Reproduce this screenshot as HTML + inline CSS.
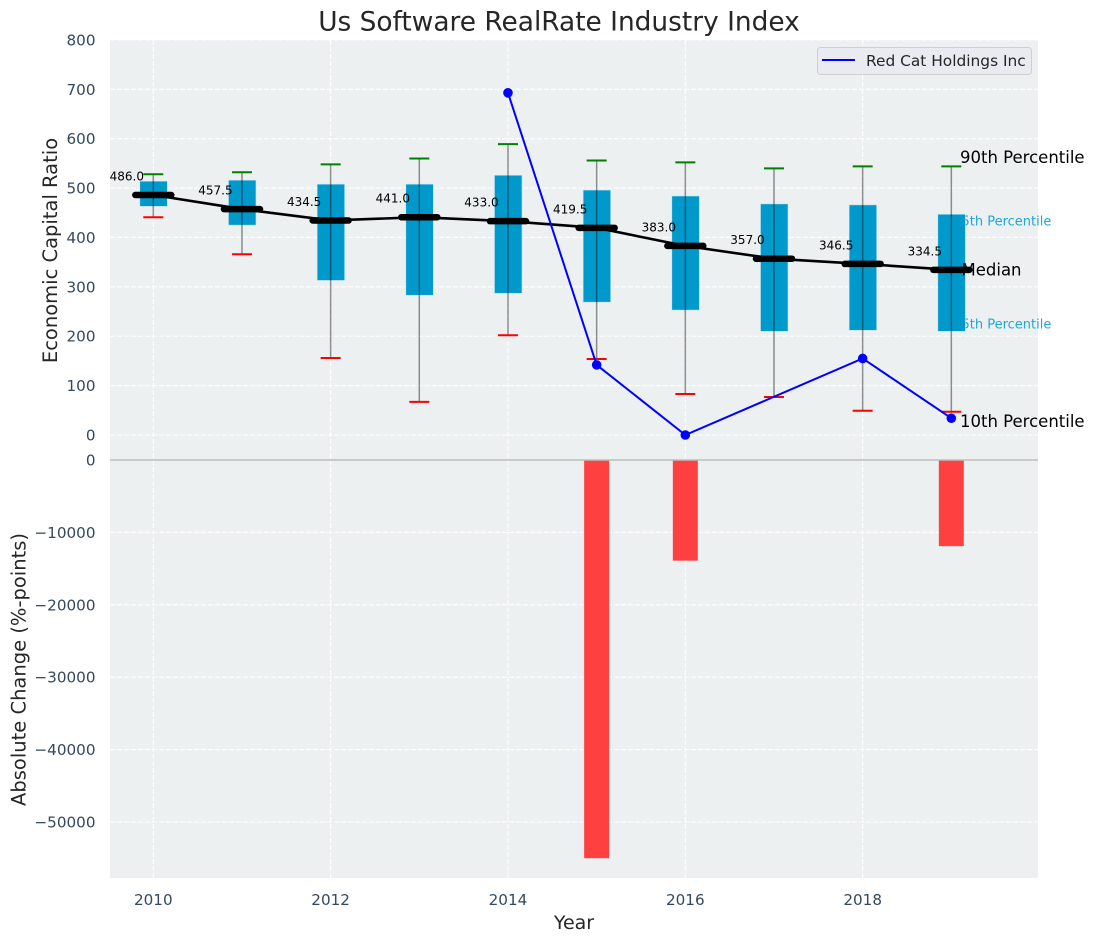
<!DOCTYPE html>
<html lang="en">
<head>
<meta charset="utf-8">
<title>Us Software RealRate Industry Index</title>
<style>
html,body{margin:0;padding:0;background:#fff;width:1095px;height:942px;overflow:hidden}
svg{display:block;font-family:"DejaVu Sans","Liberation Sans",sans-serif}
</style>
</head>
<body>
<svg id="chart" width="1095" height="942" viewBox="0 0 1095 942">
  <rect x="110" y="40" width="928" height="420" fill="#ecf0f1"/>
  <rect x="110" y="460" width="928" height="418" fill="#ecf0f1"/>
  <g id="grid"></g>
  <g id="ticks"></g>
  <text x="559" y="30.5" font-size="26.4" fill="#262626" text-anchor="middle">Us Software RealRate Industry Index</text>
  <text x="574" y="929" font-size="19" fill="#262626" text-anchor="middle">Year</text>
  <text transform="translate(57,250.5) rotate(-90)" font-size="19.5" fill="#262626" text-anchor="middle">Economic Capital Ratio</text>
  <text transform="translate(25.5,669.5) rotate(-90)" font-size="19.5" fill="#262626" text-anchor="middle">Absolute Change (%-points)</text>
  <text x="953.2" y="225.5" font-size="13" fill="#1fa7d6">75th Percentile</text>
  <text x="953.2" y="328.5" font-size="13" fill="#1fa7d6">25th Percentile</text>
  <g id="boxes"></g>
  <g id="bars"></g>
  <line x1="110" x2="1038" y1="460" y2="460" stroke="#bdbdbd" stroke-width="1.5"/>
  <text x="961.5" y="275.5" font-size="16.5" fill="#000">Median</text>
  <g id="medians"></g>
  <g id="company"></g>
  <text x="960" y="163" font-size="16.5" fill="#000">90th Percentile</text>
  <text x="960" y="427" font-size="16.5" fill="#000">10th Percentile</text>
  <g>
    <rect x="817.5" y="47.5" width="214" height="27" rx="3" fill="#e9ebf1" stroke="#cfcfcf"/>
    <line x1="822" x2="855" y1="60" y2="60" stroke="#0000ff" stroke-width="2"/>
    <text x="866" y="66" font-size="15.4" fill="#262626">Red Cat Holdings Inc</text>
  </g>
</svg>
<script>
const years = [2010, 2011, 2012, 2013, 2014, 2015, 2016, 2017, 2018, 2019];
const p90 = [528, 532, 548, 560, 589, 556, 552, 540, 544, 544];
const p75 = [514, 516, 508, 508, 526, 496, 484, 468, 466, 447];
const medianValues = [486.0, 457.5, 434.5, 441.0, 433.0, 419.5, 383.0, 357.0, 346.5, 334.5];
const p25 = [463, 425, 313, 283, 287, 269, 253, 210, 212, 210];
const p10 = [441, 366, 156, 67, 202, 154, 83, 77, 49, 47];
const companyYears = [2014, 2015, 2016, 2018, 2019];
const companyValues = [693, 142, 0, 155, 34];
const changeYears = [2015, 2016, 2019];
const changeValues = [-55000, -13900, -11900];
const xTicks = [2010, 2012, 2014, 2016, 2018];
const topTicks = [0, 100, 200, 300, 400, 500, 600, 700, 800];
const bottomTicks = [0, -10000, -20000, -30000, -40000, -50000];

const xScale = v => 153.3 + (v - 2010) * 88.67;
const topY = v => 435 - v * 0.4938;
const bottomY = v => 460 - v * 0.00724;
const NS = 'http://www.w3.org/2000/svg';
function mk(parentId, tag, attrs, text) {
  const el = document.createElementNS(NS, tag);
  for (const k in attrs) el.setAttribute(k, attrs[k]);
  if (text !== undefined) el.textContent = text;
  document.getElementById(parentId).appendChild(el);
  return el;
}
const GRID = {stroke: '#ffffff', 'stroke-width': 1.1, 'stroke-dasharray': '5 2', opacity: 0.9};
let el;

xTicks.forEach(t => {
  el = mk('grid', 'line', Object.assign({x1: xScale(t), x2: xScale(t), y1: 40, y2: 460}, GRID));
  
  
  el = mk('grid', 'line', Object.assign({x1: xScale(t), x2: xScale(t), y1: 460, y2: 878}, GRID));
  
  
  el = mk('ticks', 'text', {x: xScale(t), y: 905, 'font-size': 15.2, fill: '#34495e', 'text-anchor': 'middle'}, String(t));
  
  
});
topTicks.forEach(t => {
  el = mk('grid', 'line', Object.assign({x1: 110, x2: 1038, y1: topY(t), y2: topY(t)}, GRID));
  
  
  el = mk('ticks', 'text', {x: 95.5, y: topY(t) + 5.5, 'font-size': 15.2, fill: '#34495e', 'text-anchor': 'end'}, String(t));
  
  
});
bottomTicks.forEach(t => {
  el = mk('grid', 'line', Object.assign({x1: 110, x2: 1038, y1: bottomY(t), y2: bottomY(t)}, GRID));
  
  
  el = mk('ticks', 'text', {x: 95.5, y: bottomY(t) + 5.5, 'font-size': 15.2, fill: '#34495e', 'text-anchor': 'end'}, String(t).replace('-', '\u2212'));
  
  
});

years.forEach((yr, i) => {
  const x = xScale(yr);
  el = mk('boxes', 'rect', {x: x - 13.5, y: topY(p75[i]), width: 27.5, height: topY(p25[i]) - topY(p75[i]), fill: '#0099cc', stroke: '#c5e3ef', 'stroke-width': 0.6});
  
  
  el = mk('boxes', 'line', {x1: x, x2: x, y1: topY(p90[i]), y2: topY(p10[i]), stroke: '#000', 'stroke-opacity': 0.42, 'stroke-width': 1.5});
  
  
  el = mk('boxes', 'line', {x1: x - 10, x2: x + 10, y1: topY(p90[i]), y2: topY(p90[i]), stroke: '#008000', 'stroke-width': 2});
  
  
  el = mk('boxes', 'line', {x1: x - 10, x2: x + 10, y1: topY(p10[i]), y2: topY(p10[i]), stroke: '#ff0000', 'stroke-width': 2});
  
  
});

changeYears.forEach((yr, i) => {
  const x = xScale(yr);
  el = mk('bars', 'rect', {x: x - 12.5, y: bottomY(0), width: 25, height: bottomY(changeValues[i]) - bottomY(0), fill: '#ff4040'});
  
  
});

el = mk('medians', 'polyline', {points: years.map((yr, i) => xScale(yr) + ',' + topY(medianValues[i])).join(' '), fill: 'none', stroke: '#000', 'stroke-width': 2.6});


years.forEach((yr, i) => {
  const x = xScale(yr), y = topY(medianValues[i]);
  el = mk('medians', 'line', {x1: x - 18, x2: x + 18, y1: y, y2: y, stroke: '#000', 'stroke-width': 6.5, 'stroke-linecap': 'round'});
  
  
  el = mk('medians', 'text', {x: x - 26.5, y: y - 14.5, 'font-size': 12, fill: '#000', 'text-anchor': 'middle'}, medianValues[i].toFixed(1));
  
  
});

el = mk('company', 'polyline', {points: companyYears.map((yr, i) => xScale(yr) + ',' + topY(companyValues[i])).join(' '), fill: 'none', stroke: '#0000ff', 'stroke-width': 2});


companyYears.forEach((yr, i) => {
  el = mk('company', 'circle', {cx: xScale(yr), cy: topY(companyValues[i]), r: 4.8, fill: '#0000ff'});
  
  
});
</script>
</body>
</html>
